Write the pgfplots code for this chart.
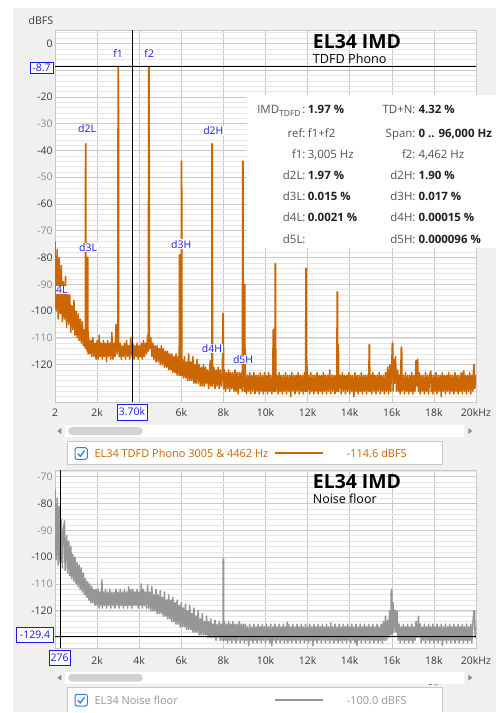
\documentclass[border=0pt]{standalone}
\usepackage{fontspec}
\setmainfont{Open Sans}
\usepackage{pgfplots}
\pgfplotsset{compat=1.18}
\definecolor{panel}{HTML}{F0F0F0}
\definecolor{gmaj}{HTML}{C8C8C8}
\definecolor{gmin}{HTML}{E6E6E6}
\definecolor{orng}{RGB}{204,102,0}
\definecolor{ngray}{RGB}{150,150,150}
\definecolor{cblue}{RGB}{25,25,235}
\definecolor{tkd}{HTML}{3A3A3A}
\definecolor{tkl}{HTML}{8A8A8A}
\definecolor{chk}{RGB}{40,130,230}
\definecolor{lab}{HTML}{505050}
\definecolor{val}{HTML}{202020}
\newcommand{\fs}[1]{\fontsize{#1}{#1}\selectfont}
\pgfplotsset{
  spec/.style={
    scale only axis, width=421bp,
    xmin=0, xmax=20000,
    axis background/.style={fill=white},
    xtick={0,2000,...,20000},
    grid=both,
    major grid style={draw=gmaj,line width=0.6bp},
    minor grid style={draw=gmin,line width=0.5bp},
    axis line style={draw=gmaj,line width=0.6bp},
    major tick length=0pt, minor tick length=0pt,
    tick label style={font=\fs{10.5}},
    xticklabel style={text=tkd},
    yticklabel style={xshift=1.2bp},
    clip=true,
  }
}
\tikzset{pk/.style={text=cblue, font=\fs{10.5}, fill=white, inner sep=0.6bp}}
\begin{document}
\begin{tikzpicture}
\begin{scope}[x=1bp,y=-1bp]
\path[use as bounding box] (0,0) rectangle (496,713);
\fill[white] (0,0) rectangle (496,713);
\fill[panel] (13,8) rectangle (496,712);
\end{scope}

% ---------------- top spectrum ----------------
\begin{axis}[spec, at={(55bp,-402bp)}, anchor=south west, height=371.7bp,
  ymin=-134, ymax=4.9,
  xticklabels={2,2k,{},6k,8k,10k,12k,14k,16k,18k,20kHz},
  xticklabel style={yshift=-3bp},
  ytick={-120,-110,...,0},
  yticklabels={{\color{tkd}-120},{\color{tkl}-110},{\color{tkd}-100},{\color{tkl}-90},{\color{tkd}-80},{\color{tkl}-70},{\color{tkd}-60},{\color{tkl}-50},{\color{tkd}-40},{\color{tkl}-30},{\color{tkd}-20},{},{\color{tkd}0}},
  minor ytick={-134,-132,...,4}]
\addplot[orng, line width=1.5bp, line join=round] coordinates {
(0,-74)(50,-100)(100,-77)(150,-103)(200,-80)(250,-101)(300,-83)(350,-104)(400,-89)(450,-103)(500,-87)(550,-106)(600,-93)(650,-105)(700,-94)(750,-108)(800,-98)(850,-107)(900,-96)(950,-109)
(1000,-100)(1050,-110)(1100,-101)(1150,-111)(1200,-103)(1250,-112)(1300,-104)(1350,-113)(1400,-107)
(1440,-114)(1450,-37.5)(1462,-37.5)(1470,-114)(1500,-108)(1530,-115)(1540,-80)(1560,-80)(1570,-116)
(1600,-110)(1650,-116)(1700,-111)(1750,-117)(1800,-110)(1850,-117)(1900,-112)(1950,-118)
(2000,-111)(2050,-118)(2100,-109)(2150,-117)(2200,-112)(2250,-118)(2300,-111)(2350,-117)(2400,-112)(2450,-119)(2500,-111)(2550,-117)(2600,-112)(2650,-118)(2700,-108)(2750,-118)(2800,-112)(2850,-117)(2900,-105)(2950,-116)
(2985,-112)(2995,-8.7)(3015,-8.7)(3025,-112)
(3050,-117)(3100,-112)(3150,-118)(3200,-113)(3250,-117)(3300,-112)(3350,-118)(3400,-111)(3450,-117)(3500,-113)(3550,-118)(3600,-110)(3650,-117)(3700,-112)(3750,-118)(3800,-113)(3850,-117)(3900,-112)(3950,-118)
(4000,-113)(4050,-117)(4100,-112)(4150,-118)(4200,-111)(4250,-117)(4300,-112)(4350,-116)(4400,-109)(4430,-115)(4452,-8.7)(4472,-8.7)(4490,-114)(4550,-110)(4600,-117)(4650,-112)(4700,-118)(4750,-113)(4800,-119)(4850,-113)(4900,-119)(4950,-114)
(5000,-120)(5050,-113)(5100,-120)(5150,-114)(5200,-121)(5250,-115)(5300,-121)(5350,-115)(5400,-122)(5450,-116)(5500,-122)(5550,-116)(5600,-123)(5650,-117)(5700,-123)(5750,-116)(5800,-124)(5850,-117)(5900,-124)
(5910,-79)(5930,-79)(5945,-124)(5960,-118)(5995,-124)(6000,-44)(6020,-44)(6030,-124)
(6050,-118)(6100,-125)(6150,-117)(6200,-125)(6250,-119)(6300,-126)(6350,-116)(6400,-126)(6450,-119)(6500,-126)(6550,-117)(6600,-127)(6650,-120)(6700,-127)(6750,-118)(6800,-127)(6850,-120)(6900,-128)(6950,-121)
(7000,-128)(7050,-120)(7100,-128)(7150,-121)(7200,-127)(7250,-122)(7300,-129)(7350,-121)(7380,-118.5)(7400,-128)(7450,-122)(7458,-37.5)(7478,-37.5)(7485,-128)(7550,-121)(7600,-129)(7650,-122)(7700,-128)(7750,-121)(7800,-129)(7850,-122)(7900,-128)(7950,-123)
(7980,-101)(8000,-101)(8010,-129)(8050,-122)(8100,-130)(8150,-123)(8200,-129)(8250,-122)(8300,-130)(8350,-123)(8400,-129)(8450,-123)(8500,-130)(8550,-122)(8600,-130)(8650,-123)(8700,-131)(8750,-123)(8800,-129)(8850,-123)(8900,-130)
(8915,-44)(8935,-44)(8945,-128)(8980,-123)(9000,-130)(9005,-90)(9020,-90)(9030,-130)
(9050,-123)(9100,-131)(9150,-124)(9200,-130)(9250,-123)(9300,-131)(9350,-124)(9400,-130)(9450,-123)(9500,-131)(9550,-124)(9600,-130)(9650,-124)(9700,-131)(9750,-123)(9800,-130)(9850,-124)(9900,-131)(9950,-123)
(10000,-130)(10050,-124)(10100,-131)(10150,-123)(10200,-130)(10250,-124)(10300,-131)(10350,-124)(10360,-107)(10375,-107)(10390,-130)(10420,-124)(10440,-130)(10462,-82.3)(10480,-82.3)(10490,-130)(10550,-124)(10600,-131)(10650,-123)(10700,-130)(10750,-124)(10800,-131)(10850,-124)(10900,-130)(10950,-123)
(11000,-131)(11050,-124)(11100,-130)(11150,-124)(11200,-132)(11250,-123)(11300,-130)(11350,-124)(11400,-131)(11450,-124)(11500,-130)(11550,-123)(11600,-131)(11650,-124)(11700,-130)(11750,-124)(11800,-131)(11850,-123)(11900,-130)(11920,-84)(11940,-84)(11950,-130)(11970,-120)(11990,-130)
(12050,-124)(12100,-131)(12150,-123)(12200,-130)(12250,-124)(12300,-131)(12350,-124)(12400,-130)(12450,-123)(12500,-131)(12550,-124)(12600,-130)(12650,-124)(12700,-131)(12750,-123)(12800,-130)(12850,-124)(12900,-131)(12950,-124)
(13000,-130)(13050,-122)(13100,-131)(13150,-124)(13200,-130)(13250,-124)(13300,-131)(13350,-124)(13390,-130)(13400,-92.8)(13420,-92.8)(13430,-130)(13450,-112.6)(13465,-112.6)(13480,-130)(13550,-124)(13600,-131)(13650,-123)(13700,-130)(13750,-124)(13800,-131)(13850,-124)(13900,-130)(13950,-123)
(14000,-131)(14050,-124)(14100,-130)(14150,-124)(14200,-132)(14250,-123)(14300,-130)(14350,-124)(14400,-131)(14450,-124)(14500,-130)(14550,-123)(14600,-131)(14650,-124)(14700,-130)(14750,-124)(14800,-131)(14850,-124)(14900,-130)(14925,-112.6)(14945,-112.6)(14960,-130)
(15000,-124)(15050,-131)(15100,-123)(15150,-130)(15200,-124)(15250,-131)(15300,-124)(15350,-130)(15400,-123)(15450,-131)(15500,-124)(15550,-130)(15600,-124)(15650,-131)(15700,-123)(15750,-130)(15800,-121)(15850,-131)(15900,-120)(15950,-130)
(16000,-119)(16025,-112)(16045,-112)(16060,-130)(16100,-118)(16130,-127)(16180,-117)(16220,-130)(16280,-122)(16320,-130)(16350,-124)(16400,-131)(16450,-113.5)(16470,-113.5)(16490,-130)(16550,-124)(16600,-131)(16650,-123)(16700,-130)(16750,-124)(16800,-131)(16850,-124)(16900,-130)(16950,-123)
(17000,-131)(17050,-124)(17100,-130)(17150,-118.5)(17180,-128)(17230,-118)(17260,-130)(17300,-123)(17350,-131)(17400,-124)(17450,-130)(17500,-124)(17550,-131)(17600,-123)(17650,-130)(17700,-124)(17750,-131)(17800,-124)(17850,-122.5)(17870,-130)(17900,-124)(17950,-131)
(18000,-124)(18050,-130)(18100,-123)(18150,-131)(18200,-124)(18250,-130)(18300,-124)(18350,-132)(18400,-123)(18450,-130)(18500,-124)(18550,-131)(18600,-124)(18650,-130)(18700,-123)(18750,-131)(18800,-124)(18850,-130)(18900,-124)(18950,-131)
(19000,-123)(19050,-130)(19100,-124)(19150,-131)(19200,-124)(19250,-130)(19300,-123)(19350,-131)(19400,-122.5)(19420,-122.5)(19450,-130)(19500,-124)(19550,-131)(19600,-124)(19650,-130)(19700,-123)(19750,-131)(19800,-124)(19850,-130)(19890,-120)(19910,-120)(19940,-129)(20000,-124)
};
\addplot[black, line width=0.8bp] coordinates {(3700,-134)(3700,4.9)};
\addplot[black, line width=0.8bp] coordinates {(0,-8.7)(20000,-8.7)};
\node[pk] at (axis cs:3000,-3.9) {f1};
\node[pk] at (axis cs:4476,-3.9) {f2};
\node[pk] at (axis cs:1524,-32) {d2L};
\node[pk] at (axis cs:7524,-32.7) {d2H};
\node[pk] at (axis cs:1571,-76.4) {d3L};
\node[pk] at (axis cs:6000,-75) {d3H};
\node[pk, anchor=west] at (axis cs:15,-92.1) {4L};
\node[pk] at (axis cs:7460,-113.9) {d4H};
\node[pk] at (axis cs:8937,-118) {d5H};
\end{axis}

% ---------------- bottom noise floor ----------------
\begin{axis}[spec, at={(55bp,-648.3bp)}, anchor=south west, height=178.3bp,
  ymin=-134, ymax=-67.5,
  xticklabels={{},2k,4k,6k,8k,10k,12k,14k,16k,18k,20kHz},
  xticklabel style={yshift=-4.5bp},
  ytick={-120,-110,...,-70},
  yticklabels={{\color{tkd}-120},{\color{tkl}-110},{\color{tkd}-100},{\color{tkl}-90},{\color{tkd}-80},{\color{tkl}-70}},
  minor ytick={-134,-132,...,-68}]
\addplot[ngray, line width=1.5bp, line join=round] coordinates {
(0,-74.5)(50,-101)(100,-78)(150,-103)(200,-81)(250,-102)(300,-86)(350,-104)(400,-90)(450,-86.5)(480,-105)(550,-92)(600,-106)(650,-94)(700,-107)(750,-96)(800,-108)(850,-99)(900,-109)(950,-100)
(1000,-110)(1050,-102)(1100,-111)(1150,-103)(1200,-112)(1250,-104)(1300,-113)(1350,-106)(1400,-114)(1450,-108)(1500,-115)(1550,-109)(1600,-116)(1650,-110)(1700,-117)(1750,-111)(1800,-117)(1850,-112)(1900,-118)(1950,-112)
(2000,-118)(2050,-112)(2100,-119)(2150,-113)(2200,-118)(2230,-108.5)(2250,-119)(2300,-113)(2350,-118)(2400,-112)(2450,-119)(2500,-113)(2550,-118)(2600,-112)(2650,-119)(2700,-113)(2750,-118)(2800,-113)(2850,-119)(2900,-112)(2950,-118)
(3000,-113)(3050,-119)(3100,-112)(3150,-118)(3200,-113)(3250,-119)(3300,-112)(3350,-118)(3400,-113)(3450,-119)(3500,-111)(3550,-118)(3600,-112)(3650,-119)(3700,-112)(3750,-118)(3800,-113)(3850,-118)(3900,-112)(3950,-119)
(4000,-113)(4050,-118)(4100,-110)(4150,-119)(4200,-112)(4250,-118)(4300,-113)(4350,-119)(4400,-110.5)(4450,-119)(4500,-113)(4550,-120)(4600,-111)(4650,-120)(4700,-114)(4750,-120)(4800,-112)(4850,-121)(4900,-114)(4950,-121)
(5000,-112.5)(5050,-121)(5100,-115)(5150,-122)(5200,-113)(5250,-122)(5300,-116)(5350,-123)(5400,-114)(5450,-123)(5500,-116)(5550,-124)(5600,-115)(5650,-124)(5700,-117)(5750,-125)(5800,-116)(5850,-125)(5900,-118)(5950,-126)
(6000,-117)(6050,-126)(6100,-119)(6150,-126)(6200,-117.5)(6250,-127)(6300,-120)(6350,-127)(6400,-118)(6450,-127)(6500,-121)(6550,-128)(6600,-119)(6650,-128)(6700,-122)(6750,-128)(6800,-120)(6850,-129)(6900,-123)(6950,-129)
(7000,-121)(7050,-129)(7100,-124)(7150,-129)(7200,-122)(7250,-130)(7300,-124)(7350,-130)(7400,-123)(7450,-130)(7500,-125)(7550,-130)(7600,-123.5)(7650,-131)(7700,-125)(7750,-130)(7800,-124)(7850,-131)(7900,-125)(7950,-131)
(7980,-131)(7990,-100.7)(8005,-100.7)(8015,-131)
(8050,-124)(8100,-131)(8150,-125)(8200,-132)(8250,-124)(8300,-131)(8350,-125)(8400,-132)(8450,-124)(8500,-131)(8550,-125)(8600,-132)(8650,-125)(8700,-131)(8750,-124)(8800,-132)(8850,-125)(8900,-131)(8950,-125)
(9000,-132)(9050,-125)(9100,-131)(9150,-126)(9200,-133)(9250,-125)(9300,-131)(9350,-126)(9400,-132)(9450,-125)(9500,-131)(9550,-126)(9600,-132)(9650,-125)(9700,-131)(9750,-126)(9800,-132)(9850,-125)(9900,-131)(9950,-126)
(10000,-132)(10050,-125)(10100,-131)(10150,-126)(10200,-132)(10250,-125)(10300,-133)(10350,-126)(10400,-131)(10450,-125)(10500,-132)(10550,-126)(10600,-131)(10650,-125)(10700,-132)(10750,-126)(10800,-131)(10850,-125)(10900,-132)(10950,-126)
(11000,-131)(11030,-124.3)(11060,-132)(11100,-125)(11150,-131)(11200,-126)(11250,-132)(11300,-125)(11350,-131)(11400,-126)(11450,-132)(11500,-125)(11550,-131)(11600,-126)(11650,-132)(11700,-125)(11750,-131)(11800,-126)(11850,-132)(11900,-125)(11950,-131)
(12000,-126)(12050,-132)(12100,-125)(12150,-131)(12200,-126)(12250,-133)(12300,-125)(12350,-131)(12400,-126)(12450,-132)(12500,-125)(12550,-131)(12600,-126)(12650,-132)(12700,-125)(12750,-131)(12800,-126)(12850,-132)(12900,-125)(12950,-131)
(13000,-126)(13050,-132)(13100,-124.5)(13150,-131)(13200,-126)(13250,-132)(13300,-125)(13350,-131)(13400,-126)(13450,-132)(13500,-125)(13550,-131)(13600,-126)(13650,-132)(13700,-125)(13750,-131)(13800,-126)(13850,-132)(13900,-125)(13950,-131)
(14000,-126)(14050,-132)(14100,-125)(14150,-131)(14200,-126)(14250,-132)(14300,-125)(14350,-133)(14400,-126)(14450,-131)(14500,-125)(14550,-132)(14600,-126)(14650,-131)(14700,-125)(14750,-132)(14800,-126)(14850,-131)(14900,-125)(14950,-132)
(15000,-126)(15050,-131)(15100,-125)(15150,-132)(15200,-126)(15250,-131)(15300,-125)(15350,-132)(15400,-126)(15450,-131)(15500,-125)(15550,-132)(15600,-124)(15650,-131)(15700,-122)(15750,-131)(15800,-123.5)(15850,-130)(15900,-120)(15950,-129)
(15975,-112)(15995,-112)(16020,-129)(16060,-117)(16090,-128)(16150,-119.7)(16200,-128)(16250,-120)(16300,-131)(16350,-125)(16400,-132)(16450,-126)(16500,-131)(16550,-125)(16600,-132)(16650,-126)(16700,-131)(16750,-125)(16800,-132)(16850,-126)(16900,-131)(16950,-125)
(17000,-132)(17050,-126)(17100,-131)(17150,-124)(17200,-130)(17270,-122)(17300,-130)(17350,-125)(17400,-132)(17450,-126)(17500,-131)(17550,-125)(17600,-132)(17650,-126)(17700,-131)(17750,-125)(17800,-132)(17850,-126)(17900,-131)(17950,-125)
(18000,-132)(18050,-126)(18100,-131)(18150,-125)(18200,-132)(18250,-126)(18300,-131)(18350,-125)(18400,-133)(18450,-126)(18500,-131)(18550,-125)(18600,-132)(18650,-126)(18700,-131)(18750,-125)(18800,-132)(18850,-126)(18900,-131)(18950,-125)
(19000,-132)(19050,-126)(19100,-131)(19150,-125)(19200,-132)(19250,-126)(19300,-131)(19350,-125)(19400,-132)(19450,-126)(19500,-131)(19550,-125)(19600,-132)(19650,-126)(19700,-131)(19750,-125)(19800,-132)(19850,-125)(19900,-120)(19930,-120)(19960,-130)(20000,-126)
};
\addplot[black, line width=0.8bp] coordinates {(276,-134)(276,-67.5)};
\addplot[black, line width=0.8bp] coordinates {(0,-129.4)(20000,-129.4)};
\end{axis}

% ---------------- overlays ----------------
\begin{scope}[x=1bp,y=-1bp]
% dBFS
\node[anchor=east, inner sep=0, text=tkd, font=\fs{10.6}] at (53.3,20.7) {dBFS};
% titles
\node[anchor=base west, inner sep=0, font=\fs{19.5}\bfseries] at (312.7,48.3) {EL34 IMD};
\node[anchor=base west, inner sep=0, font=\fs{12.7}] at (312.7,63.3) {TDFD Phono};
\node[anchor=base west, inner sep=0, font=\fs{19.5}\bfseries] at (312.7,488.3) {EL34 IMD};
\node[anchor=base west, inner sep=0, font=\fs{12.5}] at (312.7,503.3) {Noise floor};
% info box
\fill[white] (247,95) rectangle (496,248);
\begin{scope}[every node/.style={inner sep=0, font=\fs{11.5}}]
\node[anchor=base east, text=lab] at (305.7,113.3) {IMD\raisebox{-3.5bp}{\fs{8.5}TDFD}\,:};
\node[anchor=base west, text=val] at (307.7,113.3) {\bfseries 1.97 \%};
\node[anchor=base east, text=lab] at (415.7,113.3) {TD+N:};
\node[anchor=base west, text=val] at (418.3,113.3) {\bfseries 4.32 \%};
\node[anchor=base east, text=lab] at (305.7,138) {ref:};
\node[anchor=base west, text=lab] at (307.7,138) {f1+f2};
\node[anchor=base east, text=lab] at (415.7,138) {Span:};
\node[anchor=base west, text=val] at (418.3,138) {\bfseries 0 .. 96,000 Hz};
\node[anchor=base east, text=lab] at (305.7,158.3) {f1:};
\node[anchor=base west, text=lab] at (307.7,158.3) {3,005 Hz};
\node[anchor=base east, text=lab] at (415.7,158.3) {f2:};
\node[anchor=base west, text=lab] at (418.3,158.3) {4,462 Hz};
\node[anchor=base east, text=lab] at (305.7,179) {d2L:};
\node[anchor=base west, text=val] at (307.7,179) {\bfseries 1.97 \%};
\node[anchor=base east, text=lab] at (415.7,179) {d2H:};
\node[anchor=base west, text=val] at (418.3,179) {\bfseries 1.90 \%};
\node[anchor=base east, text=lab] at (305.7,200.7) {d3L:};
\node[anchor=base west, text=val] at (307.7,200.7) {\bfseries 0.015 \%};
\node[anchor=base east, text=lab] at (415.7,200.7) {d3H:};
\node[anchor=base west, text=val] at (418.3,200.7) {\bfseries 0.017 \%};
\node[anchor=base east, text=lab] at (305.7,221.7) {d4L:};
\node[anchor=base west, text=val] at (307.7,221.7) {\bfseries 0.0021 \%};
\node[anchor=base east, text=lab] at (415.7,221.7) {d4H:};
\node[anchor=base west, text=val] at (418.3,221.7) {\bfseries 0.00015 \%};
\node[anchor=base east, text=lab] at (305.7,243) {d5L:};
\node[anchor=base east, text=lab] at (415.7,243) {d5H:};
\node[anchor=base west, text=val] at (418.3,243) {\bfseries 0.000096 \%};
\end{scope}
% cursor boxes
\begin{scope}[every node/.style={draw=cblue, fill=white, text=cblue, inner sep=0, line width=0.8bp, font=\fs{10.5}}]
\node[minimum width=23bp, minimum height=11bp] at (41.5,67.5) {-8.7};
\node[minimum width=30bp, minimum height=16bp] at (132,412) {3.70k};
\node[minimum width=36.6bp, minimum height=14.3bp] at (35,635) {-129.4};
\node[minimum width=20.7bp, minimum height=15.7bp] at (59.7,658) {276};
\end{scope}
% scrollbars
\foreach \yy in {431,677.7} {
  \fill[white] (65,\yy-5.8) rectangle (464,\yy+5.8);
  \fill[gray!35, rounded corners=3.8bp] (68.3,\yy-3.9) rectangle (142.7,\yy+3.9);
  \fill[gray!90] (61.3,\yy-3) -- (57.3,\yy) -- (61.3,\yy+3) -- cycle;
  \fill[gray!90] (468.3,\yy-3) -- (472.3,\yy) -- (468.3,\yy+3) -- cycle;
}
% legend 1
\filldraw[fill=white, draw=gmaj, line width=0.7bp] (67.7,441.7) rectangle (442.3,464);
\draw[chk, line width=1bp, rounded corners=2bp, fill=white] (75,447.7) rectangle (87.3,459.3);
\draw[chk, line width=1.3bp] (77.8,453.6) -- (80.3,456.3) -- (84.6,450.5);
\node[anchor=west, inner sep=0, text=orng, font=\fs{11}] at (94.3,453.3) {EL34 TDFD Phono 3005 \& 4462 Hz};
\draw[orng, line width=1.8bp] (275,453.3) -- (323.3,453.3);
\node[anchor=west, inner sep=0, text=orng, font=\fs{11}] at (346.7,453.3) {-114.6 dBFS};
% legend 2
\fill[white] (67.7,687.7) rectangle (442.3,712);
\draw[gmaj, line width=0.7bp] (67.7,712) -- (67.7,687.7) -- (442.3,687.7) -- (442.3,712);
\draw[chk, line width=1bp, rounded corners=2bp, fill=white] (75,694.3) rectangle (87.3,706);
\draw[chk, line width=1.3bp] (77.8,700.2) -- (80.3,702.9) -- (84.6,697.1);
\node[anchor=west, inner sep=0, text=ngray, font=\fs{11}] at (94.3,700) {EL34 Noise floor};
\draw[ngray, line width=1.8bp] (275,700) -- (323.3,700);
\node[anchor=west, inner sep=0, text=ngray, font=\fs{11}] at (346.7,700) {-100.0 dBFS};
\end{scope}
\end{tikzpicture}
\end{document}
